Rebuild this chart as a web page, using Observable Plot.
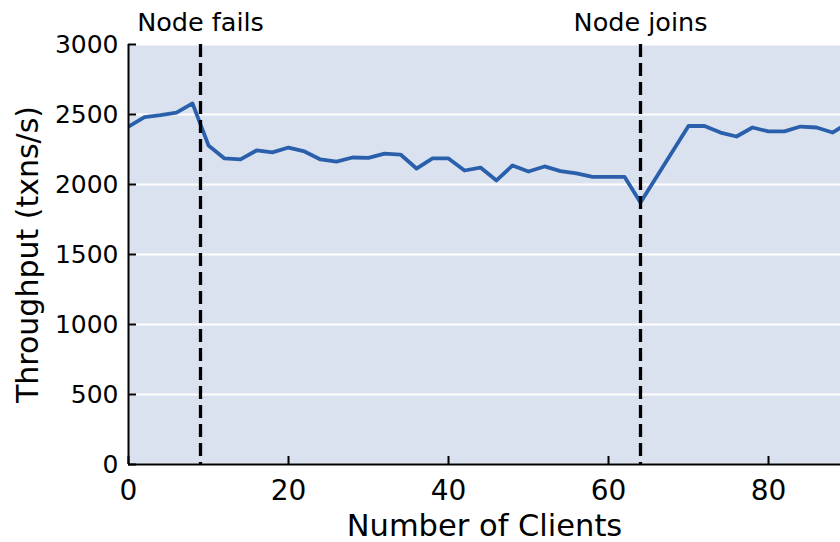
<!DOCTYPE html>
<html>
<head>
<meta charset="utf-8">
<script src="https://cdn.jsdelivr.net/npm/d3@7"></script>
<script src="https://cdn.jsdelivr.net/npm/@observablehq/plot@0.6"></script>
<style>
  html, body { margin: 0; padding: 0; background: #fff; }
  #chart svg { display: block; }
</style>
</head>
<body>
<div id="chart"></div>
<script>
// Number of clients (x) and throughput in txns/s (y)
const clients = [0, 2, 4, 6, 8, 10, 12, 14, 16, 18, 20, 22, 24, 26, 28, 30, 32, 34, 36, 38, 40,
  42, 44, 46, 48, 50, 52, 54, 56, 58, 60, 62, 64, 70, 72, 74, 76, 78, 80, 82, 84, 86, 88, 90];
const throughput = [2414, 2482, 2496, 2514, 2579, 2279, 2186, 2179, 2243, 2229, 2264, 2236, 2179, 2164, 2193, 2190, 2221, 2214, 2114, 2186, 2186,
  2100, 2121, 2029, 2136, 2093, 2129, 2096, 2079, 2055, 2055, 2055, 1871, 2418, 2418, 2371, 2343, 2407, 2379, 2379, 2414, 2407, 2371, 2440];

// Events marked with dashed vertical lines
const eventX = [9, 64];
const eventLabels = ["Node fails", "Node joins"];

// Axis ticks and labels
const xTicks = [0, 20, 40, 60, 80];
const yTicks = [0, 500, 1000, 1500, 2000, 2500, 3000];
const xLabel = ["Number of Clients"];
const yLabel = ["Throughput (txns/s)"];

const data = clients.map((c, i) => ({clients: c, throughput: throughput[i]}));
const events = eventX.map((x, i) => ({x, label: eventLabels[i]}));

const chart = Plot.plot({
  width: 840,
  height: 542,
  marginLeft: 128,
  marginRight: 0,
  marginTop: 44,
  marginBottom: 78,
  style: {fontFamily: "DejaVu Sans", background: "white", overflow: "visible"},
  x: {domain: [0, 89]},
  y: {domain: [0, 3000]},
  marks: [
    Plot.frame({fill: "#dbe2ef", stroke: "none"}),
    Plot.gridY(yTicks, {stroke: "white", strokeOpacity: 1, strokeWidth: 2}),
    Plot.line(data, {x: "clients", y: "throughput", stroke: "#2a60ab", strokeWidth: 3.8, clip: true}),
    Plot.ruleX(events, {x: "x", stroke: "black", strokeWidth: 3.3, strokeDasharray: "13,6"}),
    Plot.text(events, {x: "x", text: "label", frameAnchor: "top", lineAnchor: "middle", dy: -22, fontSize: 25.5, fill: "black"}),
    Plot.ruleY([0], {stroke: "black", strokeWidth: 2}),
    Plot.ruleX([0], {stroke: "black", strokeWidth: 2}),
    Plot.axisX(xTicks, {tickSize: -8, tickPadding: 24, fontSize: 28, strokeWidth: 2, label: null, color: "black"}),
    Plot.axisY(yTicks, {tickSize: -8, tickPadding: 18, fontSize: 25, strokeWidth: 2, label: null, tickFormat: d => String(d), color: "black"}),
    Plot.text(xLabel, {frameAnchor: "bottom", lineAnchor: "middle", dy: 62, fontSize: 30.5, fill: "black"}),
    Plot.text(yLabel, {frameAnchor: "left", textAnchor: "middle", lineAnchor: "middle", dx: -100, rotate: -90, fontSize: 30, fill: "black"})
  ]
});
document.getElementById("chart").appendChild(chart);
</script>
</body>
</html>
